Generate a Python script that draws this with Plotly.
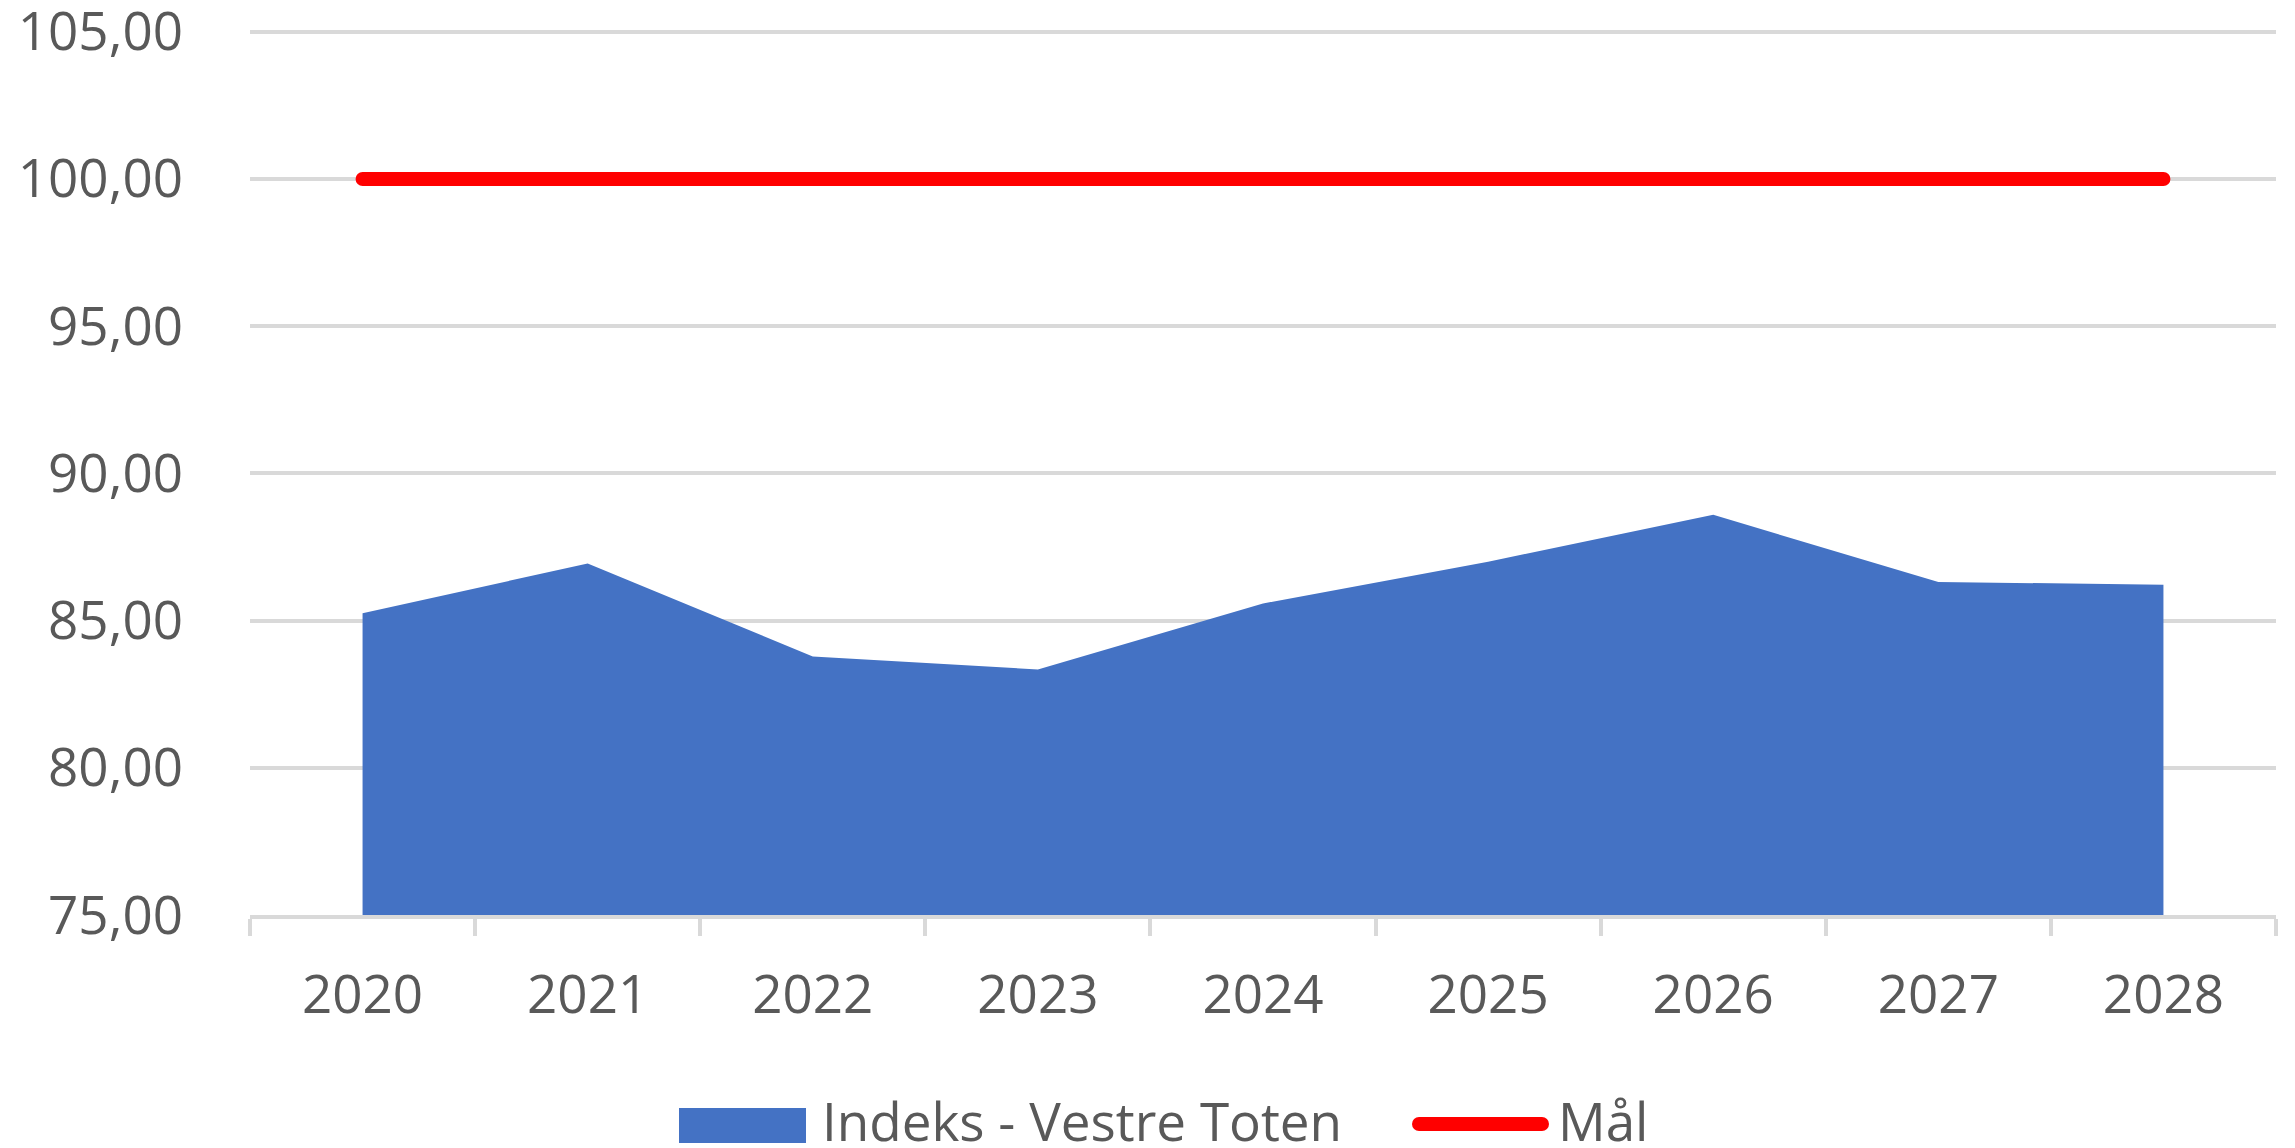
import plotly.graph_objects as go

years = ["2020", "2021", "2022", "2023", "2024", "2025", "2026", "2027", "2028"]
indeks = [85.25, 86.94, 83.78, 83.34, 85.58, 87.00, 88.59, 86.31, 86.22]
maal = [100, 100, 100, 100, 100, 100, 100, 100, 100]
y_ticks = [75, 80, 85, 90, 95, 100, 105]

W, H = 2295, 1148
ML, MR, MT, MB = 250, 19, 17, 233
PW, PH = W - ML - MR, H - MT - MB

def px_x(x):
    return (x - ML) / PW

def px_y(y):
    return (H - MB - y) / PH

FONT = "Open Sans"
GREY = "#595959"
GRID = "#d9d9d9"
BLUE = "#4472C4"
RED = "#FF0000"

fig = go.Figure()
fig.add_trace(go.Scatter(
    x=years, y=indeks, mode="lines", fill="tozeroy",
    fillcolor=BLUE, line=dict(width=0, color=BLUE),
    name="Indeks - Vestre Toten", showlegend=False, hoverinfo="x+y",
))
fig.add_trace(go.Scatter(
    x=years, y=maal, mode="lines+markers",
    line=dict(width=14, color=RED),
    marker=dict(size=14, color=RED, line=dict(width=0)),
    name="Mål", showlegend=False,
))

# manual legend
fig.add_shape(type="rect", xref="paper", yref="paper",
              x0=px_x(679), x1=px_x(806), y0=px_y(1143), y1=px_y(1108),
              fillcolor=BLUE, line=dict(width=0))
fig.add_shape(type="line", xref="paper", yref="paper",
              x0=px_x(1419), x1=px_x(1542), y0=px_y(1124), y1=px_y(1124),
              line=dict(color=RED, width=14))
for xc in (1419, 1542):
    fig.add_shape(type="circle", xref="paper", yref="paper",
                  x0=px_x(xc - 7), x1=px_x(xc + 7), y0=px_y(1131), y1=px_y(1117),
                  fillcolor=RED, line=dict(width=0))
fig.add_annotation(text="Indeks - Vestre Toten", xref="paper", yref="paper",
                   x=px_x(820), y=px_y(1120), xanchor="left", yanchor="middle",
                   showarrow=False, font=dict(family=FONT, size=53, color=GREY))
fig.add_annotation(text="Mål", xref="paper", yref="paper",
                   x=px_x(1556), y=px_y(1120), xanchor="left", yanchor="middle",
                   showarrow=False, font=dict(family=FONT, size=53, color=GREY))

fig.update_layout(
    width=W, height=H,
    margin=dict(l=ML, r=MR, t=MT, b=MB, pad=0, autoexpand=False),
    paper_bgcolor="white", plot_bgcolor="white",
    separators=", ",
    showlegend=False,
    font=dict(family=FONT, size=53, color=GREY),
)
fig.update_xaxes(
    type="category", categoryorder="array", categoryarray=years,
    range=[-0.5, 8.5], automargin=False,
    showline=True, linecolor=GRID, linewidth=4,
    ticks="outside", tickson="boundaries", ticklen=17, tickwidth=4, tickcolor=GRID,
    showgrid=False, zeroline=False,
    tickfont=dict(family=FONT, size=53, color=GREY),
    ticklabelstandoff=30,
)
fig.update_yaxes(
    range=[75, 105.5], tickvals=y_ticks, tickformat=".2f", automargin=False,
    showgrid=True, gridcolor=GRID, gridwidth=4,
    showline=False, zeroline=False, ticks="",
    tickfont=dict(family=FONT, size=53, color=GREY),
    ticklabelstandoff=66, ticklabeloverflow="allow",
)

fig.write_html(
    "out.html",
    config={"displayModeBar": False},
    post_script="document.body.style.margin='0';document.body.style.overflow='hidden';",
)
